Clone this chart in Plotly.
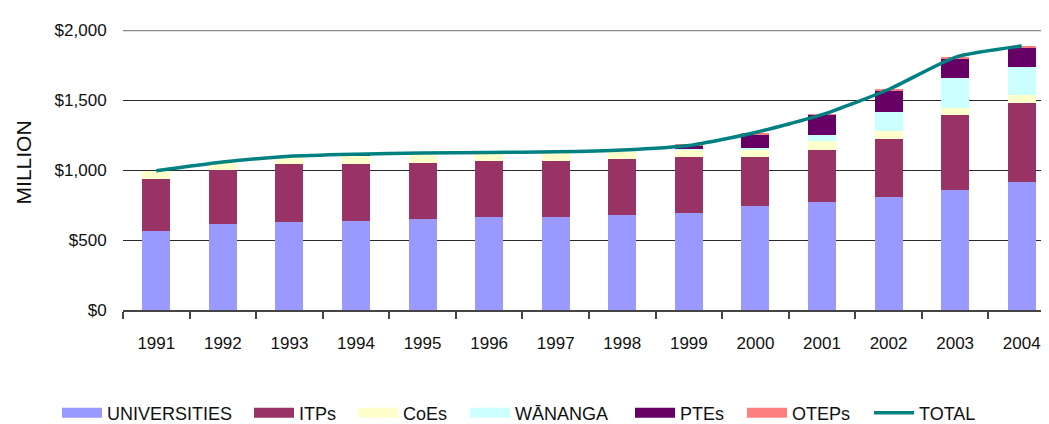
import plotly.graph_objects as go

years = ["1991", "1992", "1993", "1994", "1995", "1996", "1997",
         "1998", "1999", "2000", "2001", "2002", "2003", "2004"]
universities = [564, 614, 629, 636, 650, 664, 664, 679, 693, 743, 772, 807, 857, 914]
itps = [372, 386, 414, 407, 400, 400, 400, 400, 400, 350, 371, 414, 536, 565]
coes = [57, 52, 50, 57, 57, 50, 55, 50, 50, 50, 64, 58, 50, 57]
wananga = [0, 0, 0, 0, 0, 0, 0, 0, 10, 14, 43, 135, 214, 200]
ptes = [0, 0, 0, 5, 0, 0, 0, 0, 20, 93, 143, 157, 136, 135]
oteps = [0, 0, 0, 0, 0, 0, 0, 0, 10, 12, 4, 5, 14, 15]
total = [995, 1057, 1098, 1113, 1122, 1125, 1130, 1143, 1175, 1268, 1395, 1575, 1805, 1885]
y_ticks = [0, 500, 1000, 1500, 2000]
y_tick_labels = ["$0", "$500", "$1,000", "$1,500", "$2,000"]

FONT = "Liberation Sans, Arial, sans-serif"

# page is rendered with an 8px body margin, so the figure is 8px smaller
W, H = 1041, 416
L, T, B = 115, 22, 114
PW = W - L            # plot width in px
PH = H - T - B        # plot height in px

series = [
    ("UNIVERSITIES", universities, "#9999FF"),
    ("ITPs", itps, "#993366"),
    ("CoEs", coes, "#FFFFCC"),
    ("WĀNANGA", wananga, "#CCFFFF"),
    ("PTEs", ptes, "#660066"),
    ("OTEPs", oteps, "#FF8080"),
]
# legend text start positions (px from plot-area left edge)
legend_text_x = [-15, 177, 281, 393, 558, 670, 797]
legend_names = ["legend"] + ["legend%d" % i for i in range(2, 8)]

fig = go.Figure()
for i, (name, vals, color) in enumerate(series):
    fig.add_trace(go.Bar(x=years, y=vals, name=name, legendgroup=name, showlegend=False,
                         marker=dict(color=color, line=dict(width=0))))

fig.add_trace(go.Scatter(x=years, y=total, name="TOTAL", mode="lines", legend=legend_names[6],
                         line=dict(color="#008080", width=3.5, shape="spline", smoothing=0.6)))

# wide rectangular legend swatches for the bar series (as in the reference)
for i, (name, vals, color) in enumerate(series):
    fig.add_trace(go.Scatter(x=[None], y=[None], name=name, legendgroup=name, mode="lines",
                             legend=legend_names[i], hoverinfo="skip",
                             line=dict(color=color, width=13)))

legend_layouts = {}
for i, ln in enumerate(legend_names):
    legend_layouts[ln] = dict(
        orientation="h", x=(legend_text_x[i] - 51) / PW, xanchor="left",
        y=-103 / PH, yanchor="middle",
        font=dict(family=FONT, size=18, color="#111111"),
        itemwidth=40, bgcolor="rgba(0,0,0,0)",
    )

fig.update_layout(
    barmode="stack",
    bargap=0.58,
    width=W, height=H,
    margin=dict(l=L, r=0, t=T, b=B, pad=0, autoexpand=False),
    paper_bgcolor="white",
    plot_bgcolor="white",
    font=dict(family=FONT, size=17, color="#111111"),
    showlegend=True,
    xaxis=dict(
        type="category",
        categoryorder="array", categoryarray=years,
        range=[-0.5, 13.41],
        showgrid=False,
        showline=True, linecolor="#444444", linewidth=1.5,
        ticks="outside", tickson="boundaries", ticklen=7, tickcolor="#444444", tickwidth=1.5,
        ticklabelstandoff=17,
        tickfont=dict(family=FONT, size=17, color="#111111"),
        zeroline=False, automargin=False,
    ),
    yaxis=dict(
        range=[0, 2000],
        tickvals=y_ticks, ticktext=y_tick_labels,
        showgrid=True, gridcolor="#2a2a2a", gridwidth=1.3,
        ticks="outside", ticklen=12, tickcolor="rgba(0,0,0,0)",
        tickfont=dict(family=FONT, size=17, color="#111111"),
        zeroline=False, showline=False, automargin=False,
    ),
    shapes=[dict(type="line", xref="paper", yref="y", x0=0, x1=1, y0=2000, y1=2000,
                 line=dict(color="#888888", width=2.5), layer="above")],
    annotations=[dict(text="MILLION", xref="paper", yref="paper",
                      x=-100 / PW, y=0.527, xanchor="center", yanchor="middle",
                      textangle=-90, showarrow=False,
                      font=dict(family=FONT, size=21, color="#111111"))],
    **legend_layouts,
)

fig.write_html("out.html")
